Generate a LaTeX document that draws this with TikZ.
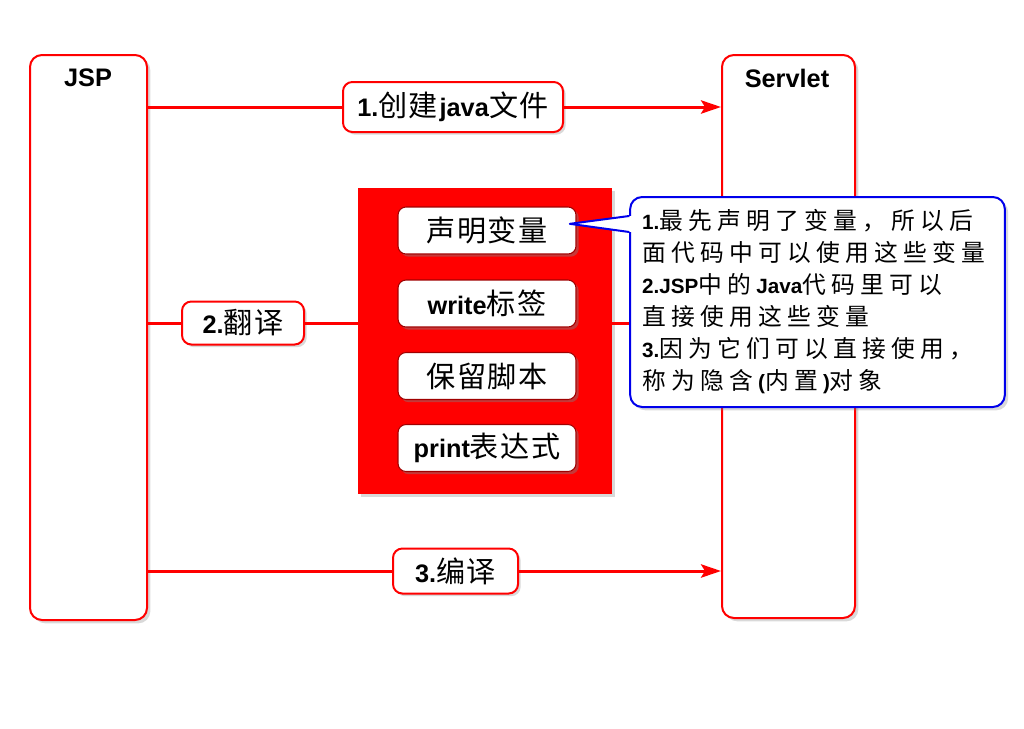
\documentclass[tikz,border=0pt]{standalone}
\usepackage{fontspec}
\setmainfont{Liberation Sans}
\newfontfamily\cjk[Scale=1.15, LetterSpace=5]{Noto Sans CJK SC}
\newfontfamily\cjkwide[Scale=1.15, LetterSpace=22]{Noto Sans CJK SC}
\usepackage{xcolor}
\usepackage{tikz}
\usetikzlibrary{arrows.meta, shadows, positioning}
\definecolor{myred}{RGB}{255,0,0}
\definecolor{myblue}{RGB}{0,0,235}
\definecolor{mydarkred}{RGB}{160,0,0}
\newcommand{\zh}[1]{{\cjk #1}}
\newcommand{\zhw}[1]{{\cjkwide #1}}

\begin{document}
\begin{tikzpicture}[
      x=0.75pt, y=-0.75pt,
      mybox/.style={
         draw=myred,
         line width=1.5pt,
         fill=white,
         rounded corners=9pt,
         inner sep=0pt,
         drop shadow={opacity=0.3, shadow xshift=2.5pt, shadow yshift=-2.5pt}},
      mytitle/.style={font=\fontsize{19}{22}\selectfont\bfseries},
      mylabel/.style={
         draw=myred,
         line width=1.5pt,
         fill=white,
         rounded corners=7pt,
         inner sep=0pt,
         font=\fontsize{19}{22}\selectfont,
         drop shadow={opacity=0.3, shadow xshift=2pt, shadow yshift=-2pt}},
      myitem/.style={
         draw=mydarkred,
         line width=0.8pt,
         fill=white,
         rounded corners=6pt,
         inner sep=0pt,
         minimum width=133.5pt,
         minimum height=35.25pt,
         font=\fontsize{19}{22}\selectfont,
         drop shadow={opacity=0.45, shadow xshift=2pt, shadow yshift=-2pt}},
      mynote/.style={
         draw=myblue,
         line width=1.5pt,
         fill=white,
         rounded corners=9pt,
         inner sep=9pt,
         text width=263pt,
         minimum height=157.5pt,
         align=left,
         font=\fontsize{15.5}{24}\selectfont,
         drop shadow={opacity=0.3, shadow xshift=2.5pt, shadow yshift=-2.5pt}},
      myline/.style={draw=myred, line width=2.25pt},
      myarrow/.style={myline, -{Stealth[length=15pt, width=10pt, inset=3pt]}}
      ]
      \useasboundingbox (0,0) rectangle (1024,728);

      % the two sides
      \node[mybox, minimum width=87.75pt, minimum height=423.75pt] at (88.5,337.5) (jsp) {};
      \node[mybox, minimum width=99.75pt, minimum height=422.25pt] at (788.5,336.5) (servlet) {};
      \node[mytitle] at (88,78) (jsptitle) {JSP};
      \node[mytitle] at (787,78) (servlettitle) {Servlet};

      % steps
      \node[mylabel, minimum width=165pt, minimum height=37.5pt] at (453,107) (lab1)
         {\textbf{1.}\zh{创建}\textbf{java}\zh{文件}};
      \node[mylabel, minimum width=91.5pt, minimum height=32.25pt] at (243,323) (lab2)
         {\textbf{2.}\zh{翻译}};
      \node[mylabel, minimum width=93.75pt, minimum height=33.75pt] at (455.5,571) (lab3)
         {\textbf{3.}\zh{编译}};

      \draw[myline] (jsp.east |- lab1) -- (lab1);
      \draw[myarrow] (lab1) -- (servlet.west |- lab1);
      \draw[myline] (jsp.east |- lab3) -- (lab3);
      \draw[myarrow] (lab3) -- (servlet.west |- lab3);

      % translation content
      \node[fill=myred, inner sep=0pt, minimum width=190.5pt, minimum height=229.5pt,
            drop shadow={opacity=0.3, shadow xshift=2.5pt, shadow yshift=-2.5pt}]
            at (485,341) (content) {};
      \draw[myline] (jsp.east |- lab2) -- (lab2);
      \draw[myline] (lab2) -- (content.west |- lab2);
      \draw[myline] (content.east |- lab2) -- (servlet.west |- lab2);

      \node[myitem] at (487,230.5) (decl) {\zh{声明变量}};
      \node[myitem] at (487,303.5) (write) {\textbf{write}\zh{标签}};
      \node[myitem] at (487,376) (script) {\zh{保留脚本}};
      \node[myitem] at (487,448) (expr) {\textbf{print}\zh{表达式}};

      % note
      \node[mynote] at (817.5,302) (note)
         {\textbf{1.}\zhw{最先声明了变量，所以后}\\
          \zhw{面代码中可以使用这些变量}\\
          \textbf{2.JSP}\zhw{中的}\textbf{Java}\zhw{代码里可以}\\
          \zhw{直接使用这些变量}\\
          \textbf{3.}\zhw{因为它们可以直接使用，}\\
          \zhw{称为隐含}\textbf{(}\zhw{内置}\textbf{)}\zhw{对象}};
      \coordinate (tip) at ([shift={(-5pt,5pt)}]decl.east);
      \coordinate (pa) at ([yshift=-15pt]note.north west);
      \coordinate (pb) at ([yshift=-27pt]note.north west);
      \fill[white] (tip) -- ([xshift=2pt]pa) -- ([xshift=2pt]pb) -- cycle;
      \draw[myblue, line width=1.5pt, line join=round] (pa) -- (tip) -- (pb);

\end{tikzpicture}
\end{document}
